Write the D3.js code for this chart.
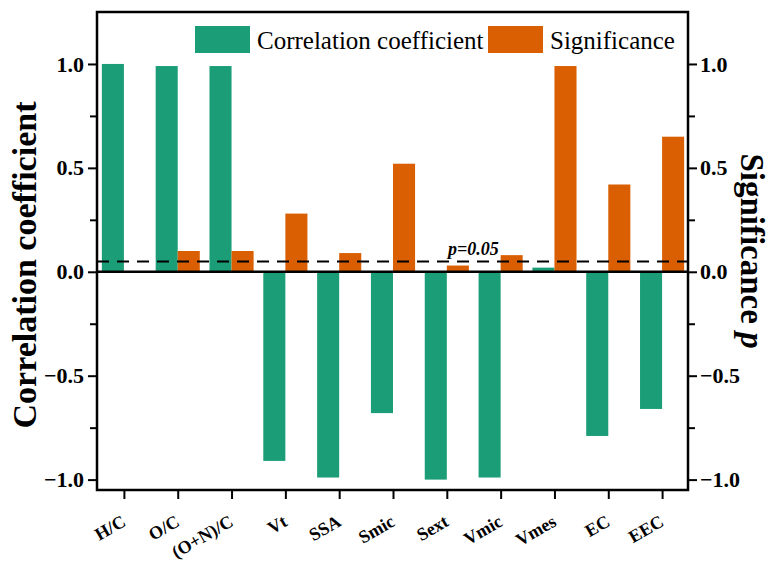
<!DOCTYPE html>
<html>
<head>
<meta charset="utf-8">
<script src="https://cdn.jsdelivr.net/npm/d3@7"></script>
<style>
  html, body { margin: 0; padding: 0; background: #fff; }
  svg { display: block; }
  text { font-family: "Liberation Serif", "Times New Roman", serif; }
</style>
</head>
<body>
<svg id="chart" width="774" height="562"></svg>
<script>
// ---- data ----
const categories = ["H/C", "O/C", "(O+N)/C", "Vt", "SSA", "Smic", "Sext", "Vmic", "Vmes", "EC", "EEC"];
const correlation = [1.00, 0.99, 0.99, -0.91, -0.99, -0.68, -1.00, -0.99, 0.02, -0.79, -0.66];
const significance = [0.00, 0.10, 0.10, 0.28, 0.09, 0.52, 0.03, 0.08, 0.99, 0.42, 0.65];
const yTicks = [-1.0, -0.5, 0.0, 0.5, 1.0];
const yMinorTicks = [-0.75, -0.25, 0.25, 0.75];
const pThreshold = 0.05;
const seriesNames = ["Correlation coefficient", "Significance"];
const seriesColors = ["#1b9e77", "#d95f02"];

// ---- layout ----
const L = 97, R = 688, T = 12, B = 490;
const svg = d3.select("#chart");

const x = d3.scaleBand().domain(categories).range([L, 689]).padding(0);
const y = d3.scaleLinear().domain([-1.05, 1.25]).range([B, T]);
const yR = d3.scaleLinear().domain([-1.05, 1.25]).range([B, T]);
const step = x.step();
const bw = step * 0.41;
const cx = c => x(c) + step / 2;
const fmt = d => (d < 0 ? "\u2212" + Math.abs(d).toFixed(1) : d.toFixed(1));

// bars: correlation (left of tick)
svg.append("g").selectAll("rect")
  .data(categories.map((c, i) => ({ c, v: correlation[i] })))
  .join("rect")
  .attr("x", d => cx(d.c) - bw)
  .attr("width", bw)
  .attr("y", d => y(Math.max(0, d.v)))
  .attr("height", d => Math.abs(y(d.v) - y(0)))
  .attr("fill", seriesColors[0]);

// bars: significance (right of tick)
svg.append("g").selectAll("rect")
  .data(categories.map((c, i) => ({ c, v: significance[i] })))
  .join("rect")
  .attr("x", d => cx(d.c))
  .attr("width", bw)
  .attr("y", d => yR(Math.max(0, d.v)))
  .attr("height", d => Math.abs(yR(d.v) - yR(0)))
  .attr("fill", seriesColors[1]);

// zero line
svg.append("line")
  .attr("x1", L).attr("x2", R).attr("y1", y(0)).attr("y2", y(0))
  .attr("stroke", "#000").attr("stroke-width", 2.5);

// p threshold dashed line
svg.append("line")
  .attr("x1", L).attr("x2", R).attr("y1", yR(pThreshold)).attr("y2", yR(pThreshold))
  .attr("stroke", "#000").attr("stroke-width", 2).attr("stroke-dasharray", "12,8");

svg.append("text")
  .attr("x", 448).attr("y", 255)
  .attr("font-size", 18).attr("font-weight", "bold").attr("font-style", "italic")
  .text("p=0.05");

// frame
svg.append("rect")
  .attr("x", L).attr("y", T).attr("width", R - L).attr("height", B - T)
  .attr("fill", "none").attr("stroke", "#000").attr("stroke-width", 2.5);

// left axis
const gL = svg.append("g").attr("transform", `translate(${L},0)`)
  .call(d3.axisLeft(y).tickValues(yTicks).tickSize(9).tickPadding(4).tickFormat(fmt));
gL.select(".domain").remove();
gL.selectAll(".tick line").attr("stroke", "#000").attr("stroke-width", 2);
gL.selectAll(".tick text").attr("font-family", "Liberation Serif, serif").attr("font-size", 22).attr("font-weight", "bold").attr("fill", "#000");
svg.append("g").attr("transform", `translate(${L},0)`)
  .call(d3.axisLeft(y).tickValues(yMinorTicks).tickSize(7).tickFormat(""))
  .call(g => g.select(".domain").remove())
  .call(g => g.selectAll(".tick line").attr("stroke", "#000").attr("stroke-width", 2));

// right axis
const gR = svg.append("g").attr("transform", `translate(${R},0)`)
  .call(d3.axisRight(yR).tickValues(yTicks).tickSize(9).tickPadding(3).tickFormat(fmt));
gR.select(".domain").remove();
gR.selectAll(".tick line").attr("stroke", "#000").attr("stroke-width", 2);
gR.selectAll(".tick text").attr("font-family", "Liberation Serif, serif").attr("font-size", 22).attr("font-weight", "bold").attr("fill", "#000");
svg.append("g").attr("transform", `translate(${R},0)`)
  .call(d3.axisRight(yR).tickValues(yMinorTicks).tickSize(7).tickFormat(""))
  .call(g => g.select(".domain").remove())
  .call(g => g.selectAll(".tick line").attr("stroke", "#000").attr("stroke-width", 2));

// bottom axis
const xPts = d3.scalePoint().domain(categories).range([cx(categories[0]), cx(categories[categories.length - 1])]);
const gB = svg.append("g").attr("transform", `translate(0,${B})`)
  .call(d3.axisBottom(xPts).tickSize(9).tickFormat(""));
gB.select(".domain").remove();
gB.selectAll(".tick line").attr("stroke", "#000").attr("stroke-width", 2);

svg.append("g").selectAll("text")
  .data(categories)
  .join("text")
  .attr("transform", d => `translate(${xPts(d) + 3},${B + 35}) rotate(-30)`)
  .attr("text-anchor", "end")
  .attr("font-size", 18).attr("font-weight", "bold")
  .text(d => d);

// axis titles
svg.append("text")
  .attr("transform", `translate(36,265) rotate(-90)`)
  .attr("text-anchor", "middle")
  .attr("font-size", 34).attr("font-weight", "bold")
  .text("Correlation coefficient");

const rt = svg.append("text")
  .attr("transform", `translate(741,${(T + B) / 2}) rotate(90)`)
  .attr("text-anchor", "middle")
  .attr("font-size", 33).attr("font-weight", "bold");
rt.append("tspan").text("Significance ");
rt.append("tspan").attr("font-style", "italic").text("p");

// legend
const legX = [195, 488];
seriesNames.forEach((name, i) => {
  svg.append("rect")
    .attr("x", legX[i]).attr("y", 26).attr("width", 55).attr("height", 27)
    .attr("fill", seriesColors[i]);
  svg.append("text")
    .attr("x", legX[i] + 62).attr("y", 48.5)
    .attr("font-size", 25)
    .text(name);
});
</script>
</body>
</html>
